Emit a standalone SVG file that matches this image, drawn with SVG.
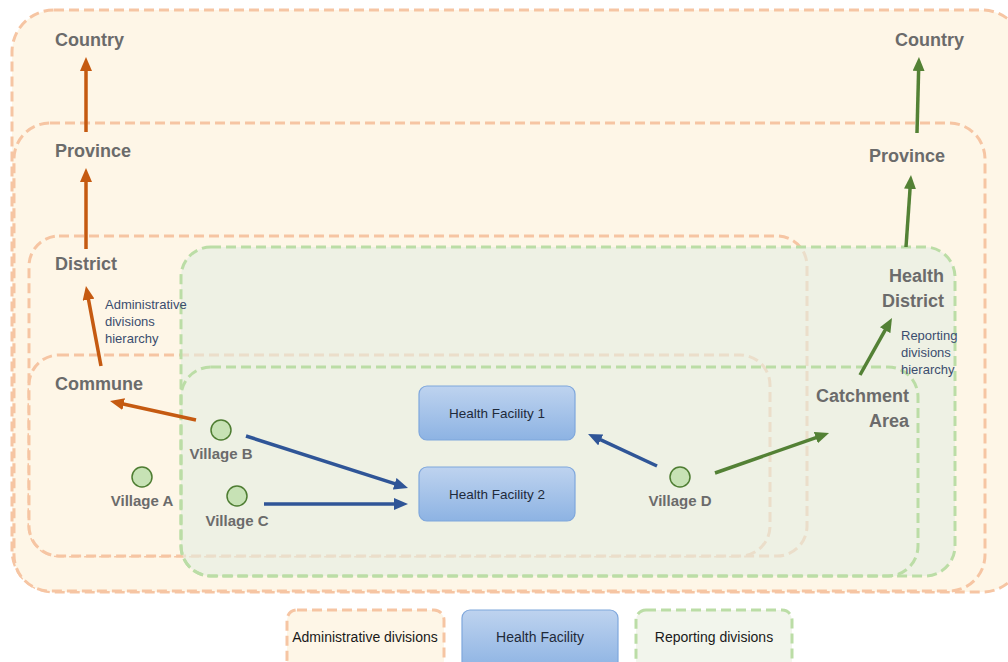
<svg xmlns="http://www.w3.org/2000/svg" width="1008" height="662" viewBox="0 0 1008 662">
<defs>
<style>
.adm{fill:#FEF6E7;stroke:#F6C5A3;stroke-width:3;stroke-dasharray:10 5}
.rep{fill:#E3EEE2;fill-opacity:0.62;stroke:#BBDDA6;stroke-width:3;stroke-dasharray:10 5}
.rep2{fill:none;stroke:#BBDDA6;stroke-width:3;stroke-dasharray:10 5}
.lbl{font-family:"Liberation Sans",Arial,sans-serif;font-weight:bold;font-size:18px;fill:#6B6B6B}
.vl{font-family:"Liberation Sans",Arial,sans-serif;font-weight:bold;font-size:15px;fill:#6B6B6B;text-anchor:middle}
.hier{font-family:"Liberation Sans",Arial,sans-serif;font-size:13px;fill:#3B4D6E}
.hf{fill:url(#hfg);stroke:#7FA7DC;stroke-width:1.2}
.hft{font-family:"Liberation Sans",Arial,sans-serif;font-size:13.5px;fill:#1E2A3A;text-anchor:middle}
.vc{fill:#C7E2B5;stroke:#4E7D32;stroke-width:1.5}
.ao{fill:none;stroke:#C55A11;stroke-width:3.5;marker-end:url(#mo)}
.ag{fill:none;stroke:#538135;stroke-width:3.5;marker-end:url(#mg)}
.ab{fill:none;stroke:#2F5597;stroke-width:3.5;marker-end:url(#mb)}
</style>
<linearGradient id="hfg" x1="0" y1="0" x2="0" y2="1">
<stop offset="0" stop-color="#BED3EF"/>
<stop offset="1" stop-color="#8DB3E3"/>
</linearGradient>
<marker id="mo" markerUnits="userSpaceOnUse" viewBox="0 0 14 12" markerWidth="14" markerHeight="12" refX="4" refY="6" orient="auto"><path d="M0,0 L14,6 L0,12 z" fill="#C55A11"/></marker>
<marker id="mg" markerUnits="userSpaceOnUse" viewBox="0 0 14 12" markerWidth="14" markerHeight="12" refX="4" refY="6" orient="auto"><path d="M0,0 L14,6 L0,12 z" fill="#538135"/></marker>
<marker id="mb" markerUnits="userSpaceOnUse" viewBox="0 0 14 12" markerWidth="14" markerHeight="12" refX="4" refY="6" orient="auto"><path d="M0,0 L14,6 L0,12 z" fill="#2F5597"/></marker>
</defs>
<rect width="1008" height="662" fill="#FFFFFF"/>

<g id="country-admin-region"><rect class="adm" x="12" y="10" width="1012" height="582" rx="42"/></g>
<g id="province-admin-region"><rect class="adm" x="14" y="123" width="971" height="468" rx="36"/></g>
<g id="district-admin-region"><rect class="adm" x="29" y="236" width="778" height="320" rx="30"/></g>
<g id="commune-admin-region"><rect class="adm" x="29" y="355" width="741" height="201" rx="30"/></g>
<g id="health-district-region"><rect class="rep" x="181" y="247" width="774" height="329" rx="30"/></g>
<g id="catchment-region"><rect class="rep2" x="181" y="367" width="737" height="209" rx="30"/></g>

<g id="labels-admin">
<text class="lbl" x="55" y="46">Country</text>
<text class="lbl" x="55" y="157">Province</text>
<text class="lbl" x="55" y="270">District</text>
<text class="lbl" x="55" y="390">Commune</text>
</g>
<g id="labels-reporting">
<text class="lbl" x="964" y="46" text-anchor="end">Country</text>
<text class="lbl" x="945" y="162" text-anchor="end">Province</text>
<text class="lbl" x="944" y="282" text-anchor="end">Health</text>
<text class="lbl" x="944" y="307" text-anchor="end">District</text>
<text class="lbl" x="909" y="402" text-anchor="end">Catchment</text>
<text class="lbl" x="909" y="427" text-anchor="end">Area</text>
</g>
<g id="hierarchy-notes">
<text class="hier" x="105" y="309">Administrative</text>
<text class="hier" x="105" y="326">divisions</text>
<text class="hier" x="105" y="343">hierarchy</text>
<text class="hier" x="901" y="340">Reporting</text>
<text class="hier" x="901" y="357">divisions</text>
<text class="hier" x="901" y="374">hierarchy</text>
</g>

<g id="hf1"><rect class="hf" x="419" y="386" width="156" height="54" rx="8"/><text class="hft" x="497" y="418">Health Facility 1</text></g>
<g id="hf2"><rect class="hf" x="419" y="467" width="156" height="54" rx="8"/><text class="hft" x="497" y="499">Health Facility 2</text></g>

<g id="village-a"><circle class="vc" cx="142" cy="477" r="10"/><text class="vl" x="142" y="506">Village A</text></g>
<g id="village-b"><circle class="vc" cx="221" cy="430" r="10"/><text class="vl" x="221" y="459">Village B</text></g>
<g id="village-c"><circle class="vc" cx="237" cy="496" r="10"/><text class="vl" x="237" y="526">Village C</text></g>
<g id="village-d"><circle class="vc" cx="680" cy="477" r="10"/><text class="vl" x="680" y="506">Village D</text></g>

<g id="connectors">
<path class="ao" d="M86,132 L86,67"/>
<path class="ao" d="M86,249 L86,178"/>
<path class="ao" d="M101,366 L87.8,295.8"/>
<path class="ao" d="M196,420 L119.8,403.2"/>
<path class="ag" d="M917,133 L918.7,67"/>
<path class="ag" d="M906,247 L910.3,185"/>
<path class="ag" d="M860,375 L887.1,326.7"/>
<path class="ag" d="M715,473 L819.6,436.3"/>
<path class="ab" d="M246,436 L398.5,484.9"/>
<path class="ab" d="M264,504 L398,504"/>
<path class="ab" d="M657,466 L597.1,438.2"/>
</g>

<g id="legend-admin"><rect class="adm" x="287" y="610" width="157" height="60" rx="10"/><text class="hft" x="365" y="642" style="fill:#1a1a1a;font-size:14px">Administrative divisions</text></g>
<g id="legend-hf"><rect class="hf" x="462" y="610" width="156" height="60" rx="8"/><text class="hft" x="540" y="642" style="font-size:14px">Health Facility</text></g>
<g id="legend-rep"><rect x="636" y="610" width="156" height="60" rx="10" fill="#F2F5EC" stroke="#BBDDA6" stroke-width="3" stroke-dasharray="10 5"/><text class="hft" x="714" y="642" style="fill:#1a1a1a;font-size:14px">Reporting divisions</text></g>
</svg>
